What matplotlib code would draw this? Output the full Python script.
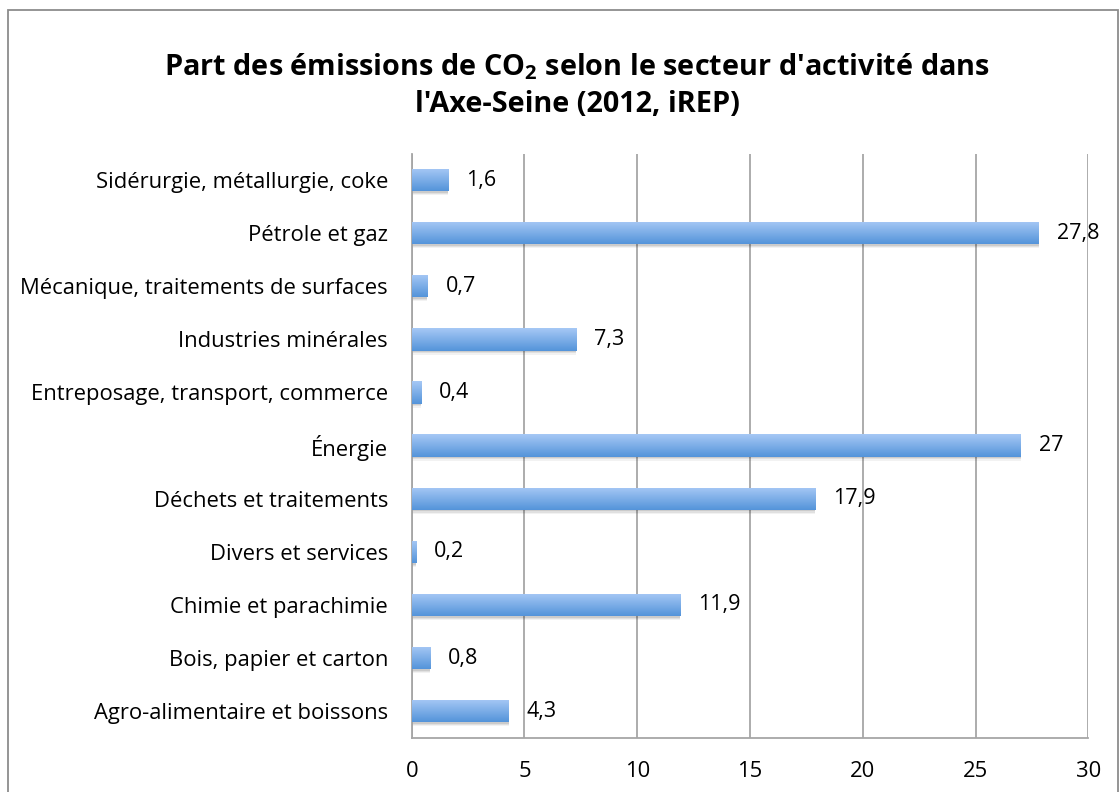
import matplotlib
matplotlib.use("Agg")
import matplotlib.pyplot as plt
import numpy as np
from matplotlib.patches import Rectangle
from matplotlib.colors import LinearSegmentedColormap

categories = ["Sidérurgie, métallurgie, coke", "Pétrole et gaz",
              "Mécanique, traitements de surfaces", "Industries minérales",
              "Entreposage, transport, commerce", "Énergie",
              "Déchets et traitements", "Divers et services",
              "Chimie et parachimie", "Bois, papier et carton",
              "Agro-alimentaire et boissons"]
values = [1.6, 27.8, 0.7, 7.3, 0.4, 27, 17.9, 0.2, 11.9, 0.8, 4.3]
value_labels = ["1,6", "27,8", "0,7", "7,3", "0,4", "27", "17,9", "0,2", "11,9", "0,8", "4,3"]
xticks = [0, 5, 10, 15, 20, 25, 30]

plt.rcParams['font.family'] = ['Open Sans', 'DejaVu Sans']
plt.rcParams['mathtext.fontset'] = 'custom'
plt.rcParams['mathtext.rm'] = 'Open Sans'
plt.rcParams['mathtext.bf'] = 'Open Sans:bold'

fig = plt.figure(figsize=(11.19, 7.92), dpi=100)
ax = fig.add_axes([411.7/1119, 1-737.7/792, (1088.3-411.7)/1119, (737.7-153.5)/792])

n = len(categories)
ypos = np.arange(n)[::-1]
bh = 0.42
cmap = LinearSegmentedColormap.from_list("g", ["#5494da", "#a6c8f5"])
grad = np.linspace(0, 1, 64).reshape(-1, 1)

for y, v in zip(ypos, values):
    # soft drop shadow below the bar
    for dy, a in [(0.075, 0.05), (0.05, 0.07), (0.03, 0.09)]:
        ax.barh(y - dy, v, height=bh, left=0, color="#000000", alpha=a,
                zorder=2, linewidth=0)
    bar = ax.barh(y, v, height=bh, left=0, color="none", linewidth=0, zorder=3)[0]
    im = ax.imshow(grad, cmap=cmap, aspect='auto', origin='lower',
                   extent=[0, v, y - bh/2, y + bh/2], zorder=3, interpolation='bilinear')
    im.set_clip_path(bar)

for y, v, lab in zip(ypos, values, value_labels):
    ax.annotate(lab, (v, y), xytext=(18, 0), textcoords='offset pixels',
                ha='left', va='center', fontsize=15.5, color='black')

ax.set_xlim(0, 30)
ax.set_ylim(-0.5, n - 0.5)
ax.set_yticks(ypos)
ax.set_yticklabels(categories)
ax.set_xticks(xticks)
ax.set_xticklabels([str(t) for t in xticks])
ax.tick_params(axis='both', length=0, labelsize=15.8)
ax.tick_params(axis='y', pad=17)
ax.tick_params(axis='x', pad=17)
ax.xaxis.grid(True, color="#a6a6a6", linewidth=1.3, zorder=0)
ax.set_axisbelow(True)
for s in ['top', 'right']:
    ax.spines[s].set_visible(False)
for s in ['left', 'bottom']:
    ax.spines[s].set_color("#a6a6a6")
    ax.spines[s].set_linewidth(1.3)

fig.text(577/1119, 1-67/792, r"Part des émissions de CO$_{\mathbf{2}}$ selon le secteur d'activité dans",
         ha='center', va='center', fontsize=20.8, fontweight='bold')
fig.text(577/1119, 1-105/792, "l'Axe-Seine (2012, iREP)",
         ha='center', va='center', fontsize=20.8, fontweight='bold')

fig.patches.append(Rectangle((8/1119, -0.01), (1118-8)/1119, 1-10/792 + 0.01,
                             transform=fig.transFigure, fill=False,
                             edgecolor="#8c8c8c", linewidth=1.3))

fig.savefig("out.png", dpi=100)
